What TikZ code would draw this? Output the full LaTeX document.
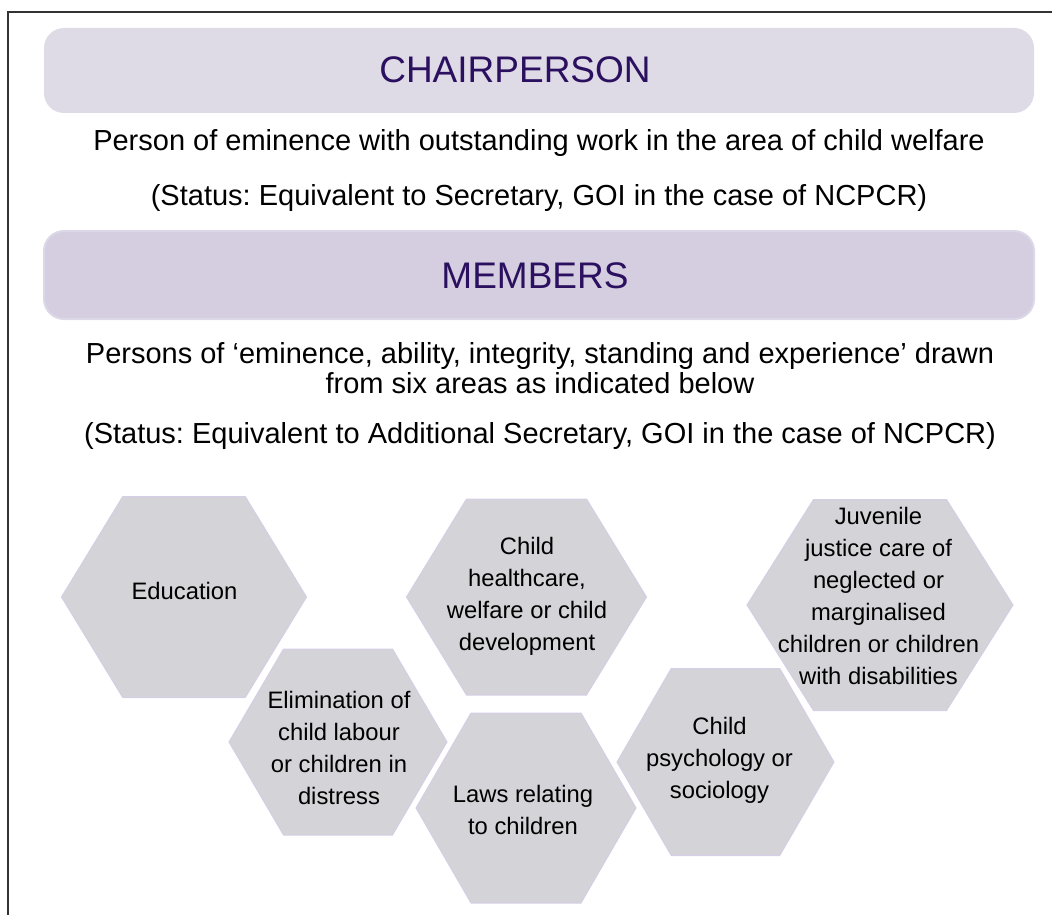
\documentclass[tikz,border=0pt]{standalone}
\usepackage{fontspec}
\setmainfont{Liberation Sans}
\usetikzlibrary{calc}
\frenchspacing
\definecolor{framegray}{RGB}{51,51,51}
\definecolor{chairfill}{RGB}{222,218,230}
\definecolor{membfill}{RGB}{213,206,224}
\definecolor{membline}{RGB}{221,216,231}
\definecolor{titlepurple}{RGB}{44,16,96}
\definecolor{hexfill}{RGB}{211,211,216}
\definecolor{hexline}{RGB}{214,206,230}
\def\hexagon[#1](#2)(#3:#4){\draw[#1] ($(#2)+(-#3,0)$) -- ($(#2)+(-#3/2,-#4)$) -- ($(#2)+(#3/2,-#4)$) -- ($(#2)+(#3,0)$) -- ($(#2)+(#3/2,#4)$) -- ($(#2)+(-#3/2,#4)$) -- cycle;}
\tikzset{
  titletext/.style={text=titlepurple, font=\fontsize{37}{44}\selectfont},
  bodytext/.style={text=black, align=center, font=\fontsize{29}{30}\selectfont},
  hextext/.style={text=black, align=center, font=\fontsize{23.8}{32}\selectfont}
}

\begin{document}
\begin{tikzpicture}[x=1pt, y=-1pt]
			%%%%% START %%%%%
			\useasboundingbox (0, 0) rectangle (1052, 915);
			
			\draw[line width=1.5, color=framegray] (8, 915) -- (8, 12) -- (1052, 12);
			
			\draw[fill=chairfill, draw=none, rounded corners=20] (44, 28) rectangle (1034, 113);
			\node[titletext] (chair) at (515, 70) {CHAIRPERSON};
			\node[bodytext, anchor=base] (chairwho) at (539, 150) {Person of eminence with outstanding work in the area of child welfare};
			\node[bodytext, anchor=base] (chairstatus) at (539, 205) {(Status: Equivalent to Secretary, GOI in the case of NCPCR)};
			
			\draw[fill=membfill, draw=membline, line width=2, rounded corners=20] (44, 231) rectangle (1034, 319);
			\node[titletext] (members) at (535, 276) {MEMBERS};
			\node[bodytext] (memberswho) at (540, 368) {Persons of ‘eminence, ability, integrity, standing and experience’ drawn\\from six areas as indicated below};
			\node[bodytext, anchor=base] (membersstatus) at (540, 443) {(Status: Equivalent to Additional Secretary, GOI in the case of NCPCR)};
			
			\hexagon[fill=hexfill, draw=hexline, line width=1](184, 597)(122.5:100.5);
			\hexagon[fill=hexfill, draw=hexline, line width=1](338, 742)(109:93);
			\hexagon[fill=hexfill, draw=hexline, line width=1](526.5, 597)(120:98);
			\hexagon[fill=hexfill, draw=hexline, line width=1](526, 808)(110:95);
			\hexagon[fill=hexfill, draw=hexline, line width=1](725.5, 762)(108.5:93.5);
			\hexagon[fill=hexfill, draw=hexline, line width=1](880, 605)(133:105.5);
			
			\node[hextext] (education) at (184.5, 591) {Education};
			\node[hextext] (labour) at (339, 748) {Elimination of\\child labour\\or children in\\distress};
			\node[hextext] (health) at (527, 596) {Child\\healthcare,\\welfare or child\\development};
			\node[hextext] (laws) at (523, 810) {Laws relating\\to children};
			\node[hextext] (psychology) at (719.5, 760) {Child\\psychology or\\sociology};
			\node[hextext] (juvenile) at (878.5, 596) {Juvenile\\justice care of\\neglected or\\marginalised\\children or children\\with disabilities};
			
			%%%%% END %%%%%
\end{tikzpicture}
\end{document}
